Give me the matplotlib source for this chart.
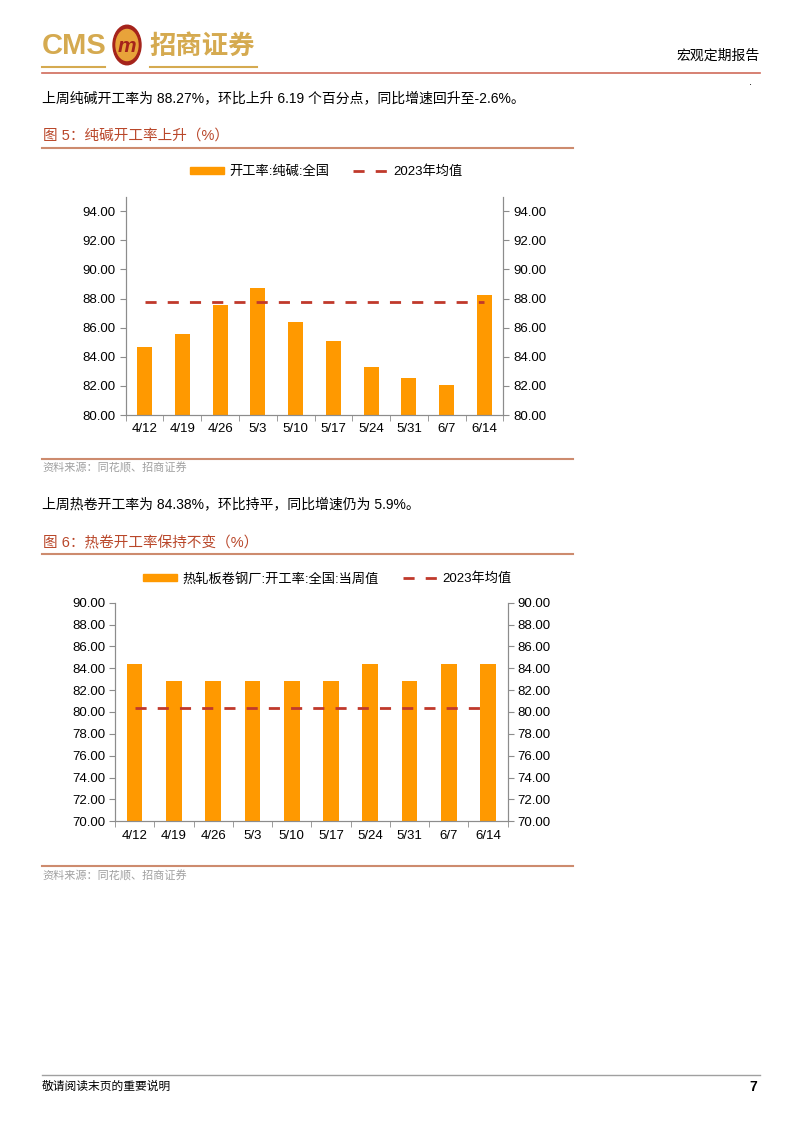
import matplotlib
matplotlib.use('Agg')
import matplotlib.pyplot as plt
from matplotlib.patches import Rectangle, Circle
from matplotlib.lines import Line2D

plt.rcParams['font.family'] = ['Liberation Sans', 'Noto Sans CJK SC']

# data
dates = ['4/12', '4/19', '4/26', '5/3', '5/10', '5/17', '5/24', '5/31', '6/7', '6/14']
soda_rate = [84.67, 85.57, 87.56, 88.75, 86.37, 85.06, 83.32, 82.54, 82.08, 88.27]
soda_mean_2023 = 87.75
hrc_rate = [84.38, 82.80, 82.80, 82.80, 82.80, 82.80, 84.38, 82.80, 84.38, 84.38]
hrc_mean_2023 = 80.40

soda_label = '开工率:纯碱:全国'
hrc_label = '热轧板卷钢厂:开工率:全国:当周值'
mean_label = '2023年均值'

W, H = 802, 1133
BAR = '#FF9900'
MEAN = '#C0392B'
TITLE = '#B9472A'
RULE = '#CD8B6E'
GOLD = '#D5AA50'
AXC = '#8C8C8C'

fig = plt.figure(figsize=(W / 100, H / 100), dpi=100)


def fx(x):
    return x / W


def fy(y):
    return 1 - y / H


def hline(x0, x1, y, color, lw=1.2):
    fig.add_artist(Line2D([fx(x0), fx(x1)], [fy(y), fy(y)], color=color, lw=lw))


def text(x, y, s, **kw):
    fig.text(fx(x), fy(y), s, **kw)


# header
text(42, 46, 'CMS', fontsize=21, fontweight='bold', color=GOLD, va='center', family='Liberation Sans')
fig.add_artist(Circle((fx(127), fy(45)), 14 / W, color='#A5231B', transform=fig.transFigure))
fig.add_artist(Circle((fx(127), fy(45)), 11 / W, color='#E8A33A', transform=fig.transFigure))
text(127, 46, 'm', fontsize=15, fontweight='bold', color='#A5231B', ha='center', va='center', style='italic')
text(149, 46, '招商证券', fontsize=19, fontweight='bold', color=GOLD, va='center')
hline(42, 105, 67, GOLD, 1.5)
hline(150, 257, 67, GOLD, 1.5)
hline(42, 760, 73, '#D06B5A', 1.2)
text(760, 56, '宏观定期报告', fontsize=10, ha='right', va='center')
text(750, 82, '.', fontsize=8, ha='center', va='center')

# section 1
text(42, 98, '上周纯碱开工率为 88.27%，环比上升 6.19 个百分点，同比增速回升至-2.6%。', fontsize=10, va='center')
text(43, 136, '图 5：纯碱开工率上升（%）', fontsize=10.5, color=TITLE, va='center')
hline(42, 573, 148, RULE, 1.5)
hline(42, 573, 459, RULE, 1.5)
text(42, 468, '资料来源：同花顺、招商证券', fontsize=8, color='#A0A0A0', va='center')

# section 2
text(42, 504, '上周热卷开工率为 84.38%，环比持平，同比增速仍为 5.9%。', fontsize=10, va='center')
text(43, 543, '图 6：热卷开工率保持不变（%）', fontsize=10.5, color=TITLE, va='center')
hline(42, 573, 554, RULE, 1.5)
hline(42, 573, 866, RULE, 1.5)
text(42, 876, '资料来源：同花顺、招商证券', fontsize=8, color='#A0A0A0', va='center')

# footer
hline(42, 760, 1075, '#A0A0A0', 1.0)
text(42, 1087, '敬请阅读末页的重要说明', fontsize=8.5, va='center')
text(757, 1087, '7', fontsize=10, fontweight='bold', ha='right', va='center')


def bar_chart(x0, x1, y0, y1, values, mean, ylo, yhi, ticks, label, leg_x, leg_y):
    ax = fig.add_axes([fx(x0), fy(y1), fx(x1) - fx(x0), (y1 - y0) / H])
    pos = list(range(len(dates)))
    ax.bar(pos, values, width=0.4, color=BAR, zorder=2)
    ax.plot([pos[0], pos[-1]], [mean, mean], color=MEAN, lw=2, dashes=(4, 4), zorder=3)
    ax.set_xlim(-0.5, len(dates) - 0.5)
    ax.set_ylim(ylo, yhi)
    ax.set_yticks(ticks)
    ax.set_yticklabels([f'{t:.2f}' for t in ticks], fontsize=9.5)
    ax.set_xticks(pos)
    ax.set_xticklabels(dates, fontsize=9.5)
    ax.set_xticks([p - 0.5 for p in pos] + [pos[-1] + 0.5], minor=True)
    ax.tick_params(axis='x', which='major', length=0, pad=6)
    ax.tick_params(axis='x', which='minor', length=4, color=AXC)
    ax.tick_params(axis='y', length=4, color=AXC, pad=3)
    ax.spines['top'].set_visible(False)
    for s in ['left', 'right', 'bottom']:
        ax.spines[s].set_color(AXC)
    ax2 = ax.twinx()
    ax2.set_ylim(ylo, yhi)
    ax2.set_yticks(ticks)
    ax2.set_yticklabels([f'{t:.2f}' for t in ticks], fontsize=9.5)
    ax2.tick_params(axis='y', length=4, color=AXC, pad=3)
    ax2.spines['top'].set_visible(False)
    for s in ['left', 'right', 'bottom']:
        ax2.spines[s].set_color(AXC)
    handles = [Rectangle((0, 0), 1, 1, color=BAR),
               Line2D([0], [0], color=MEAN, lw=2, dashes=(4, 4))]
    fig.legend(handles, [label, mean_label], loc='center left',
               bbox_to_anchor=(fx(leg_x), fy(leg_y)), ncol=2, frameon=False,
               fontsize=9.5, handlelength=2.6, handleheight=0.45,
               columnspacing=1.8, handletextpad=0.4, borderaxespad=0, borderpad=0)
    return ax


bar_chart(125.7, 503.3, 196.7, 415, soda_rate, soda_mean_2023, 80, 95,
          [80, 82, 84, 86, 88, 90, 92, 94], soda_label, 190, 172)
bar_chart(115, 507.7, 602.7, 821.3, hrc_rate, hrc_mean_2023, 70, 90,
          [70, 72, 74, 76, 78, 80, 82, 84, 86, 88, 90], hrc_label, 143, 579)

fig.savefig('out.png', dpi=100)
